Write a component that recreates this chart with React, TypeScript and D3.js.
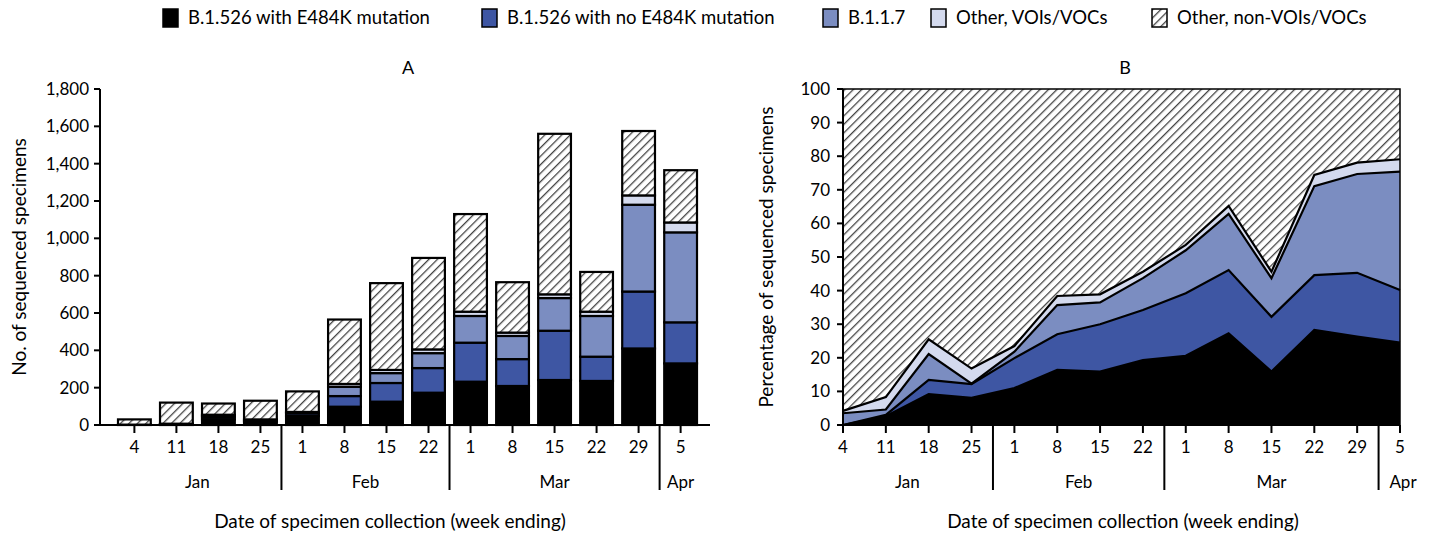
import * as d3 from "d3";

const weeks = ["4", "11", "18", "25", "1", "8", "15", "22", "1", "8", "15", "22", "29", "5"];
const months = [
  { name: "Jan", from: 0, to: 3 },
  { name: "Feb", from: 4, to: 7 },
  { name: "Mar", from: 8, to: 12 },
  { name: "Apr", from: 13, to: 13 },
];

// Panel A: counts per week
const e484k = [0, 3, 30, 18, 48, 98, 125, 173, 232, 209, 241, 236, 410, 330];
const noE484k = [0, 1, 12, 6, 14, 57, 100, 132, 209, 144, 264, 130, 305, 220];
const b117 = [1, 1, 8, 0, 4, 50, 53, 80, 143, 124, 175, 218, 465, 482];
const otherVoc = [1, 2, 5, 6, 4, 15, 17, 20, 23, 18, 20, 23, 50, 53];
const otherNon = [28, 113, 60, 100, 110, 345, 465, 490, 523, 270, 860, 213, 345, 280];

// Panel B: percentages per week
const pctE484k = [0, 2.6, 9.2, 8.1, 11, 16.4, 15.9, 19.3, 20.6, 27.3, 15.9, 28.3, 26.3, 24.5];
const pctNoE484k = [0, 0.4, 4.2, 4.1, 8.9, 10.6, 14.1, 14.9, 18.6, 18.8, 16.3, 16.3, 19, 15.7];
const pctB117 = [3.5, 1.6, 7.7, 0.1, 1.9, 8.7, 6.5, 9.5, 12.8, 16.7, 11.5, 26.5, 29.4, 35.2];
const pctOtherVoc = [0.7, 3.7, 4.4, 4.5, 1.7, 2.7, 2.4, 1.9, 1.6, 2.4, 1.9, 3.3, 3.4, 3.7];

const keys = ["e484k", "noE484k", "b117", "otherVoc", "otherNon"];
const labels = [
  "B.1.526 with E484K mutation",
  "B.1.526 with no E484K mutation",
  "B.1.1.7",
  "Other, VOIs/VOCs",
  "Other, non-VOIs/VOCs",
];
const colors = ["#000000", "#3e56a3", "#7b8dc1", "#d4daee", "url(#hatch)"];
const font = "Lato, sans-serif";

export default function App() {
  const rowsA = weeks.map((w, i) => ({
    i: String(i),
    e484k: e484k[i],
    noE484k: noE484k[i],
    b117: b117[i],
    otherVoc: otherVoc[i],
    otherNon: otherNon[i],
  }));
  const seriesA = d3.stack<any>().keys(keys)(rowsA);
  const rowsB = weeks.map((w, i) => {
    const s = pctE484k[i] + pctNoE484k[i] + pctB117[i] + pctOtherVoc[i];
    return {
      i,
      e484k: pctE484k[i],
      noE484k: pctNoE484k[i],
      b117: pctB117[i],
      otherVoc: pctOtherVoc[i],
      otherNon: 100 - s,
    };
  });
  const seriesB = d3.stack<any>().keys(keys)(rowsB);

  const aTop = 89, aBot = 425;
  const xA = d3.scaleBand<string>().domain(weeks.map((w, i) => String(i))).range([118, 697]).paddingInner(0.22);
  const yA = d3.scaleLinear().domain([0, 1800]).range([aBot, aTop]);
  const xB = d3.scaleLinear().domain([0, 13]).range([843, 1400]);
  const yB = d3.scaleLinear().domain([0, 100]).range([aBot, aTop]);
  const area = d3
    .area<any>()
    .x((d) => xB(d.data.i))
    .y0((d) => yB(d[0]))
    .y1((d) => yB(d[1]));
  const line = d3
    .line<any>()
    .x((d) => xB(d.data.i))
    .y((d) => yB(d[1]));

  const cx = (i: number) => xA(String(i))! + xA.bandwidth() / 2;
  const sepA = (i: number) => (cx(i - 1) + cx(i)) / 2;
  const sepB = (i: number) => (xB(i - 1) + xB(i)) / 2;

  const legendX = [163, 482, 823, 931, 1152];

  return (
    <svg width={1435} height={535} style={{ position: "absolute", left: 0, top: 0, fontFamily: font }}>
      <defs>
        <pattern id="hatch" width={6} height={6} patternUnits="userSpaceOnUse" patternTransform="rotate(45)">
          <rect width={6} height={6} fill="#fff" />
          <line x1={0} y1={0} x2={0} y2={6} stroke="#444" strokeWidth={2.6} />
        </pattern>
      </defs>

      {/* legend */}
      {labels.map((l, k) => (
        <g key={k} transform={`translate(${legendX[k]},9)`}>
          <rect width={15} height={18} fill={colors[k]} stroke="#000" strokeWidth={1.5} />
          <text x={25} y={15} fontSize={18.5}>{l}</text>
        </g>
      ))}

      {/* Panel A */}
      <text x={408} y={74} fontSize={18} textAnchor="middle">A</text>
      {seriesA.map((s, k) => (
        <g key={k}>
          {s.map((d, j) => (
            <rect
              key={j}
              x={xA(String(j))}
              y={yA(d[1])}
              width={xA.bandwidth()}
              height={Math.max(0, yA(d[0]) - yA(d[1]))}
              fill={colors[k]}
              stroke="#000"
              strokeWidth={2.2}
            />
          ))}
        </g>
      ))}
      <line x1={100} x2={100} y1={aTop} y2={aBot} stroke="#000" strokeWidth={2} />
      <line x1={100} x2={710} y1={aBot} y2={aBot} stroke="#000" strokeWidth={2} />
      {yA.ticks(9).map((t) => (
        <g key={t}>
          <line x1={94} x2={100} y1={yA(t)} y2={yA(t)} stroke="#000" strokeWidth={2} />
          <text x={89} y={yA(t) + 6} fontSize={17} textAnchor="end">{d3.format(",")(t)}</text>
        </g>
      ))}
      {weeks.map((w, i) => (
        <g key={i}>
          <line x1={cx(i)} x2={cx(i)} y1={aBot} y2={aBot + 8} stroke="#000" strokeWidth={2} />
          <text x={cx(i)} y={453} fontSize={17} textAnchor="middle">{w}</text>
        </g>
      ))}
      {months.map((m, k) => (
        <g key={m.name}>
          {k > 0 && <line x1={sepA(m.from)} x2={sepA(m.from)} y1={aBot} y2={490} stroke="#000" strokeWidth={2} />}
          <text x={(cx(m.from) + cx(m.to)) / 2} y={488} fontSize={17} textAnchor="middle">{m.name}</text>
        </g>
      ))}
      <text transform="translate(26,257) rotate(-90)" fontSize={19} textAnchor="middle">No. of sequenced specimens</text>
      <text x={390} y={528} fontSize={19} textAnchor="middle">Date of specimen collection (week ending)</text>

      {/* Panel B */}
      <text x={1125} y={74} fontSize={18} textAnchor="middle">B</text>
      {seriesB.map((s, k) => (
        <path key={k} d={area(s)!} fill={colors[k]} />
      ))}
      {seriesB.slice(0, 4).map((s, k) => (
        <path key={k} d={line(s)!} fill="none" stroke="#000" strokeWidth={2.2} />
      ))}
      <rect x={843} y={aTop} width={557} height={aBot - aTop} fill="none" stroke="#000" strokeWidth={1.5} />
      <line x1={843} x2={843} y1={aTop} y2={aBot} stroke="#000" strokeWidth={2} />
      <line x1={843} x2={1400} y1={aBot} y2={aBot} stroke="#000" strokeWidth={2} />
      {yB.ticks(10).map((t) => (
        <g key={t}>
          <line x1={837} x2={843} y1={yB(t)} y2={yB(t)} stroke="#000" strokeWidth={2} />
          <text x={830} y={yB(t) + 6} fontSize={17} textAnchor="end">{t}</text>
        </g>
      ))}
      {weeks.map((w, i) => (
        <g key={i}>
          <line x1={xB(i)} x2={xB(i)} y1={aBot} y2={aBot + 8} stroke="#000" strokeWidth={2} />
          <text x={xB(i)} y={453} fontSize={17} textAnchor="middle">{w}</text>
        </g>
      ))}
      {months.map((m, k) => (
        <g key={m.name}>
          {k > 0 && <line x1={sepB(m.from)} x2={sepB(m.from)} y1={aBot} y2={490} stroke="#000" strokeWidth={2} />}
          <text x={k === 3 ? 1403 : (xB(m.from) + xB(m.to)) / 2} y={488} fontSize={17} textAnchor="middle">{m.name}</text>
        </g>
      ))}
      <text transform="translate(773,257) rotate(-90)" fontSize={19} textAnchor="middle">Percentage of sequenced specimens</text>
      <text x={1123} y={528} fontSize={19} textAnchor="middle">Date of specimen collection (week ending)</text>
    </svg>
  );
}
